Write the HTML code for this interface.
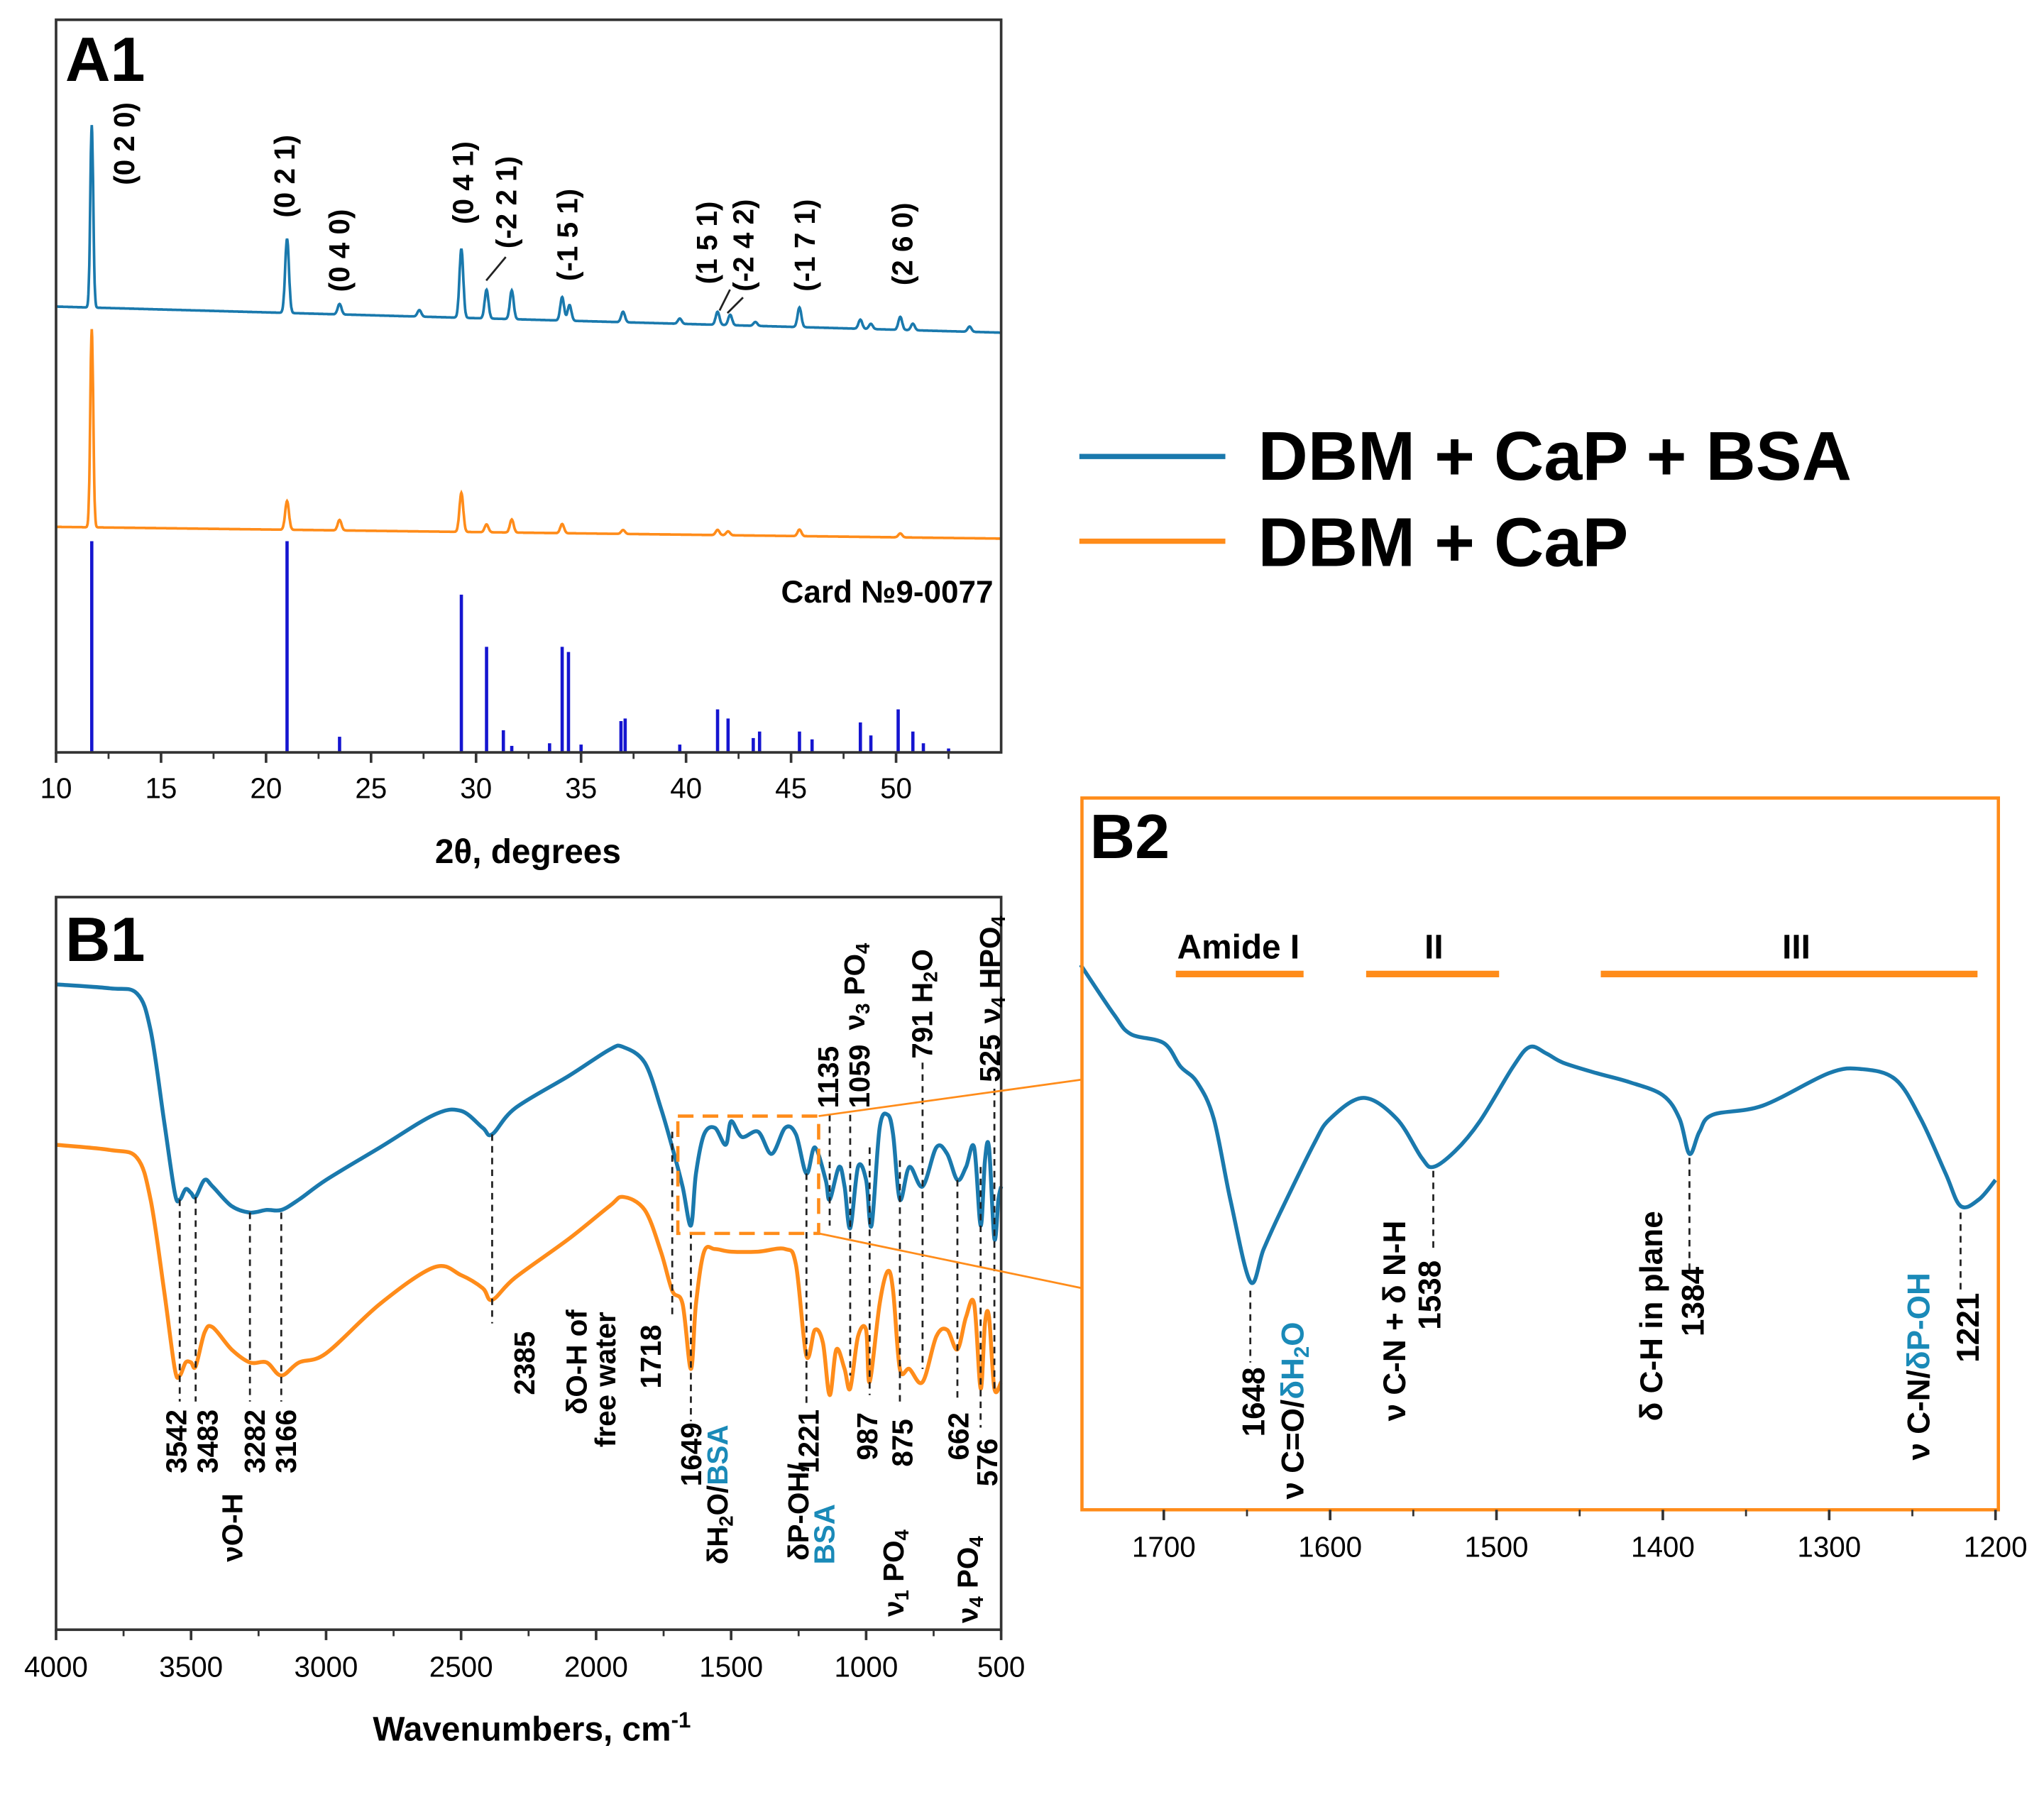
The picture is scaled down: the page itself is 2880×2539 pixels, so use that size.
<!DOCTYPE html>
<html><head><meta charset="utf-8"><style>
html,body{margin:0;padding:0;background:#fff;}
svg{display:block;font-family:"Liberation Sans",sans-serif;font-weight:bold;}
</style></head><body>
<svg id="fig" width="2880" height="2539" viewBox="0 0 1568 1382" xmlns="http://www.w3.org/2000/svg">
<rect width="1568" height="1382" fill="#fff"/>
<g id="a1"></g>
<g id="b1"></g>
<g id="b2"></g>
<g id="legend">
  <line x1="828" y1="350" x2="940" y2="350" stroke="#1a79ad" stroke-width="4"/>
  <text x="965" y="368" font-size="53">DBM + CaP + BSA</text>
  <line x1="828" y1="415" x2="940" y2="415" stroke="#ff8c1a" stroke-width="4"/>
  <text x="965" y="434" font-size="53">DBM + CaP</text>
</g>
</svg>
<script>
// ---------- DATA ----------
const xrdBlueBase = [[10,235],[55,255]];
const xrdBluePeaks = [[11.7,140],[21,57],[23.5,8],[27.3,5],[29.3,53],[30.5,22],[31.7,22],[34.1,18],[34.45,12],[37,8],[39.7,4],[41.5,10],[42.1,8],[43.3,3],[45.4,15],[48.3,7],[48.8,4],[50.2,10],[50.8,5],[53.5,4]];
const xrdOrangeBase = [[10,404],[55,413]];
const xrdOrangePeaks = [[11.7,152],[21,22],[23.5,8],[29.3,30],[30.5,6],[31.7,10],[34.1,7],[37,3],[41.5,4],[42,3],[45.4,5],[50.2,3]];
const cardPos = [11.7,21,23.5,29.3,30.5,31.3,31.7,33.5,34.1,34.4,35,36.9,37.1,39.7,41.5,42,43.2,43.5,45.4,46,48.3,48.8,50.1,50.8,51.3,52.5];
const cardInt = [162,162,12,121,81,17,5,7,81,77,6,24,26,6,33,26,11,16,16,10,23,13,33,16,7,3];
const xrdTicks = [10,15,20,25,30,35,40,45,50];
const xrdLabels = [["(0 2 0)",11.7,95,110],["(0 2 1)",21,218,135],["(0 4 0)",23.5,260,192],["(0 4 1)",29.3,355,140],["(-2 2 1)",30.5,388,155],["(-1 5 1)",34.1,435,180],["(1 5 1)",41.5,542,186],["(-2 4 2)",42.1,570,188],["(-1 7 1)",45.4,617,188],["(2 6 0)",50.2,692,187]];

const ftirBlue = [[4000,495],[3800,492],[3700,488],[3650,460],[3600,390],[3560,335],[3542,330],[3520,338],[3500,335],[3483,332],[3450,345],[3420,340],[3350,325],[3282,320],[3220,322],[3166,322],[3100,330],[3000,345],[2800,370],[2600,395],[2500,398],[2420,385],[2385,380],[2300,400],[2100,425],[1950,445],[1900,447],[1820,435],[1760,400],[1718,370],[1680,340],[1649,310],[1630,350],[1600,380],[1560,385],[1520,372],[1500,390],[1460,378],[1400,382],[1350,365],[1300,385],[1260,380],[1221,350],[1190,370],[1150,345],[1135,330],[1100,355],[1080,340],[1059,308],[1030,355],[1000,345],[980,310],[950,385],[920,395],[900,380],[875,330],[840,355],[791,340],[740,370],[700,365],[662,345],[630,355],[600,370],[576,310],[560,360],[545,370],[525,300],[510,330],[500,340]];
const ftirOrange = [[4000,372],[3800,368],[3700,362],[3650,330],[3600,260],[3560,200],[3542,195],[3520,205],[3500,205],[3483,202],[3450,228],[3420,232],[3350,215],[3282,205],[3220,205],[3166,195],[3100,205],[3000,212],[2800,250],[2600,278],[2500,272],[2420,262],[2385,253],[2300,270],[2100,300],[1950,325],[1900,332],[1820,322],[1760,290],[1718,260],[1680,250],[1649,200],[1630,250],[1600,290],[1560,292],[1500,290],[1400,290],[1300,292],[1260,280],[1221,210],[1190,230],[1160,220],[1135,180],[1110,215],[1080,200],[1059,185],[1030,225],[1000,230],[987,190],[950,250],[920,275],[900,260],[875,200],[840,200],[791,190],[740,225],[700,230],[662,215],[630,240],[600,250],[576,185],[560,235],[545,240],[525,185],[500,190]];
const ftirTicks = [4000,3500,3000,2500,2000,1500,1000,500];
const b2Curve = [[1750,418],[1730,380],[1720,365],[1700,358],[1690,340],[1680,328],[1670,300],[1660,238],[1648,175],[1640,200],[1630,228],[1610,280],[1600,300],[1580,316],[1560,300],[1545,270],[1538,263],[1525,275],[1510,298],[1490,340],[1480,355],[1470,350],[1460,343],[1440,335],[1420,328],[1400,318],[1390,300],[1384,273],[1378,290],[1370,303],[1340,310],[1300,335],[1280,338],[1260,330],[1245,300],[1230,258],[1221,233],[1210,238],[1200,253]];
const b2Ticks = [1700,1600,1500,1400,1300,1200];

// ---------- HELPERS ----------
const NS="http://www.w3.org/2000/svg";
function mk(parent,tag,attrs,txt){const e=document.createElementNS(NS,tag);for(const k in attrs)e.setAttribute(k,attrs[k]);if(txt!==undefined)e.textContent=txt;parent.appendChild(e);return e;}
function smooth(pts){let d="M"+pts[0][0].toFixed(1)+","+pts[0][1].toFixed(1);
 for(let i=0;i<pts.length-1;i++){const p0=pts[Math.max(0,i-1)],p1=pts[i],p2=pts[i+1],p3=pts[Math.min(pts.length-1,i+2)];
  const c1=[p1[0]+(p2[0]-p0[0])/6,p1[1]+(p2[1]-p0[1])/6],c2=[p2[0]-(p3[0]-p1[0])/6,p2[1]-(p3[1]-p1[1])/6];
  d+=`C${c1[0].toFixed(1)},${c1[1].toFixed(1)} ${c2[0].toFixed(1)},${c2[1].toFixed(1)} ${p2[0].toFixed(1)},${p2[1].toFixed(1)}`;}
 return d;}
function vtext(parent,x,y,str,size,anchor){
 return mk(parent,"text",{transform:`translate(${x},${y}) rotate(-90)`,"font-size":size,"text-anchor":anchor||"start"},str);}
const BLUE="#1a79ad", ORANGE="#ff8c1a", TEAL="#1a8ab8";

// ---------- A1 ----------
const a1=document.getElementById('a1');
const ax=v=>43+(v-10)*16.11;
function xrdPath(base,peaks){const pts=[];for(let t=10;t<=55;t+=0.02){
  const b=base[0][1]+(base[1][1]-base[0][1])*(t-base[0][0])/(base[1][0]-base[0][0]);let s=0;
  for(const p of peaks){const w=p[1]>100?0.07:0.09;s+=p[1]*Math.exp(-((t-p[0])**2)/(2*w*w));}
  pts.push([ax(t),b-s]);}
 return "M"+pts.map(p=>p[0].toFixed(1)+","+p[1].toFixed(1)).join("L");}
let el=mk(a1,"path",{d:xrdPath(xrdBlueBase,xrdBluePeaks),fill:"none",stroke:BLUE,"stroke-width":2});

el=mk(a1,"path",{d:xrdPath(xrdOrangeBase,xrdOrangePeaks),fill:"none",stroke:ORANGE,"stroke-width":2});

cardPos.forEach((p,i)=>{const l=mk(a1,"line",{x1:ax(p),x2:ax(p),y1:577,y2:577-cardInt[i],stroke:"#1515d0","stroke-width":2.5});
 });
el=mk(a1,"rect",{x:43,y:15,width:725,height:562,fill:"none",stroke:"#333","stroke-width":2});

xrdTicks.forEach(t=>{mk(a1,"line",{x1:ax(t),x2:ax(t),y1:577,y2:585,stroke:"#333","stroke-width":2});
 const tx=mk(a1,"text",{x:ax(t),y:612,"font-size":22,"text-anchor":"middle","font-weight":"normal"},t);
 });
for(let t=12.5;t<55;t+=5)mk(a1,"line",{x1:ax(t),x2:ax(t),y1:577,y2:582,stroke:"#333","stroke-width":1.5});
el=mk(a1,"text",{x:405,y:662,"font-size":26,"text-anchor":"middle"},"2θ, degrees");

el=mk(a1,"text",{x:50,y:62,"font-size":48},"A1");

el=mk(a1,"text",{x:762,y:462,"font-size":24,"text-anchor":"end"},"Card №9-0077");

xrdLabels.forEach(l=>{const t=vtext(a1,l[2]+8,l[3],l[0],22,"middle");
 });
[[373,215,388,197],[552,238,560,222],[558,240,570,228]].forEach(s=>mk(a1,"line",{x1:s[0],y1:s[1],x2:s[2],y2:s[3],stroke:"#222","stroke-width":1.5}));

// ---------- B1 ----------
const b1=document.getElementById('b1');
const bx=v=>43+(4000-v)*725/3500, by=v=>1250-v;
el=mk(b1,"path",{d:smooth(ftirBlue.map(p=>[bx(p[0]),by(p[1])])),fill:"none",stroke:BLUE,"stroke-width":3});

el=mk(b1,"path",{d:smooth(ftirOrange.map(p=>[bx(p[0]),by(p[1])])),fill:"none",stroke:ORANGE,"stroke-width":3});

el=mk(b1,"rect",{x:43,y:688,width:725,height:562,fill:"none",stroke:"#333","stroke-width":2});

ftirTicks.forEach(t=>{mk(b1,"line",{x1:bx(t),x2:bx(t),y1:1250,y2:1258,stroke:"#333","stroke-width":2});
 const tx=mk(b1,"text",{x:bx(t),y:1286,"font-size":22,"text-anchor":"middle","font-weight":"normal"},t);
 });
for(let t=3750;t>500;t-=500)mk(b1,"line",{x1:bx(t),x2:bx(t),y1:1250,y2:1255,stroke:"#333","stroke-width":1.5});
el=mk(b1,"text",{x:408,y:1335,"font-size":26,"text-anchor":"middle"});
el.innerHTML='Wavenumbers, cm<tspan dy="-10" font-size="17">-1</tspan>';

el=mk(b1,"text",{x:50,y:737,"font-size":48},"B1");

[[3542,920,1075],[3483,918,1075],[3282,930,1075],[3166,930,1075],[2385,870,1015],[1718,868,1010],[1649,945,1090],[1221,900,1080],[1135,855,940],[1059,855,1055],[987,880,1070],[875,890,1075],[791,815,1050],[662,905,1075],[576,895,1095],[525,835,1065]].forEach(m=>{
 const l=mk(b1,"line",{x1:bx(m[0]),x2:bx(m[0]),y1:m[1],y2:m[2],stroke:"#222","stroke-width":1.5,"stroke-dasharray":"5,4"});
 });
const b1Labels=[[143,1130,"3542"],[167,1130,"3483"],[203,1130,"3282"],[227,1130,"3166"],[410,1070,"2385"],[507,1065,"1718"],[538,1140,"1649"],[628,1130,"1221"],[673,1120,"987"],[700,1125,"875"],[743,1120,"662"],[765,1140,"576"],[643,850,"1135"],[667,850,"1059"],[767,830,"525"]];
b1Labels.forEach(l=>{const t=vtext(b1,l[0],l[1],l[2],22);});
let t;
t=vtext(b1,186,1198,"νO-H",22);
t=vtext(b1,450,1085,"δO-H of",22);
t=vtext(b1,472,1110,"free water",22);
t=vtext(b1,558,1200,"",22);t.innerHTML='δH<tspan font-size="15" dy="4">2</tspan><tspan dy="-4">O/</tspan><tspan fill="'+TEAL+'">BSA</tspan>';

t=vtext(b1,620,1197,"δP-OH/",22);
t=vtext(b1,640,1200,"BSA",22);t.setAttribute('fill',TEAL);
t=vtext(b1,693,1240,"",22);t.innerHTML='ν<tspan font-size="15" dy="4">1</tspan><tspan dy="-4"> PO</tspan><tspan font-size="15" dy="4">4</tspan>';

t=vtext(b1,750,1245,"",22);t.innerHTML='ν<tspan font-size="15" dy="4">4</tspan><tspan dy="-4"> PO</tspan><tspan font-size="15" dy="4">4</tspan>';

t=vtext(b1,663,790,"",22);t.innerHTML='ν<tspan font-size="15" dy="4">3</tspan><tspan dy="-4"> PO</tspan><tspan font-size="15" dy="4">4</tspan>';

t=vtext(b1,715,812,"",22);t.innerHTML='791 H<tspan font-size="15" dy="4">2</tspan><tspan dy="-4">O</tspan>';

t=vtext(b1,767,785,"",22);t.innerHTML='ν<tspan font-size="15" dy="4">4</tspan><tspan dy="-4"> HPO</tspan><tspan font-size="15" dy="4">4</tspan>';

el=mk(b1,"rect",{x:520,y:856,width:108,height:90,fill:"none",stroke:ORANGE,"stroke-width":2.5,"stroke-dasharray":"12,7"});

mk(b1,"line",{x1:628,y1:856,x2:830,y2:828,stroke:ORANGE,"stroke-width":1.5});
mk(b1,"line",{x1:628,y1:946,x2:830,y2:988,stroke:ORANGE,"stroke-width":1.5});

// ---------- B2 ----------
const b2=document.getElementById('b2');
const cx=v=>829+(1750-v)*1.276, cy=v=>1158-v;
el=mk(b2,"path",{d:smooth(b2Curve.map(p=>[cx(p[0]),cy(p[1])])),fill:"none",stroke:BLUE,"stroke-width":3});

el=mk(b2,"rect",{x:830,y:612,width:703,height:546,fill:"none",stroke:ORANGE,"stroke-width":2.5});

b2Ticks.forEach(tk=>{mk(b2,"line",{x1:cx(tk),x2:cx(tk),y1:1158,y2:1166,stroke:"#333","stroke-width":2});
 const tx=mk(b2,"text",{x:cx(tk),y:1194,"font-size":22,"text-anchor":"middle","font-weight":"normal"},tk);
 });
for(let tk=1650;tk>1200;tk-=100)mk(b2,"line",{x1:cx(tk),x2:cx(tk),y1:1158,y2:1163,stroke:"#333","stroke-width":1.5});
el=mk(b2,"text",{x:836,y:658,"font-size":48},"B2");

[["Amide I",950,902,1000],["II",1100,1048,1150],["III",1378,1228,1517]].forEach(a=>{
 const tx=mk(b2,"text",{x:a[1],y:735,"font-size":26,"text-anchor":"middle"},a[0]);
 
 const r=mk(b2,"line",{x1:a[2],x2:a[3],y1:747,y2:747,stroke:ORANGE,"stroke-width":5});
 });
[[1648,990,1045],[1538,898,960],[1384,888,975],[1221,930,990]].forEach(m=>{
 const l=mk(b2,"line",{x1:cx(m[0]),x2:cx(m[0]),y1:m[1],y2:m[2],stroke:"#222","stroke-width":1.5,"stroke-dasharray":"5,4"});
 });
[[970,1102,"1648"],[1105,1020,"1538"],[1307,1025,"1384"],[1518,1045,"1221"]].forEach(l=>{const tt=vtext(b2,l[0],l[1],l[2],24);});
t=vtext(b2,1000,1150,"",24);t.innerHTML='ν C=O/<tspan fill="'+TEAL+'">δH<tspan font-size="16" dy="4">2</tspan><tspan dy="-4">O</tspan></tspan>';

t=vtext(b2,1078,1090,"ν C-N + δ N-H",24);
t=vtext(b2,1275,1090,"δ C-H in plane",24);
t=vtext(b2,1480,1120,"",24);t.innerHTML='ν C-N/<tspan fill="'+TEAL+'">δP-OH</tspan>';

</script>
</body></html>
